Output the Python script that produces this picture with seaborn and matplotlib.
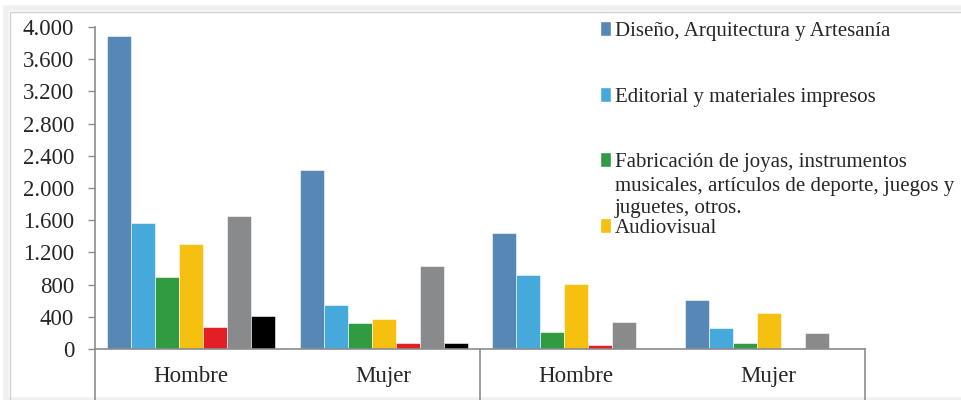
import matplotlib
matplotlib.use('Agg')
import matplotlib.pyplot as plt
from matplotlib.patches import Patch, Rectangle
from matplotlib.ticker import FuncFormatter
import matplotlib.transforms as mtransforms
import seaborn as sns
import pandas as pd

# datos
grupos = ['Hombre', 'Mujer', 'Hombre', 'Mujer']
series = [
    'Diseño, Arquitectura y Artesanía',
    'Editorial y materiales impresos',
    'Fabricación de joyas, instrumentos musicales, artículos de deporte, juegos y juguetes, otros.',
    'Audiovisual',
    'Serie 5',
    'Serie 6',
    'Serie 7',
]
diseno = [3883, 2228, 1443, 607]
editorial = [1567, 545, 915, 267]
fabricacion = [890, 329, 208, 71]
audiovisual = [1309, 374, 803, 449]
serie5 = [270, 80, 46, 0]
serie6 = [1651, 1027, 333, 200]
serie7 = [408, 71, 0, 0]
colores = ['#5687B5', '#45A9DB', '#319B42', '#F5C010', '#E31E24', '#898A8C', '#000000']
yticks = [0, 400, 800, 1200, 1600, 2000, 2400, 2800, 3200, 3600, 4000]

FS = 15      # leyenda
FS_EJE = 16.5  # etiquetas de los ejes
GRIS = '#8c8c8c'


def build_df():
    valores = [diseno, editorial, fabricacion, audiovisual, serie5, serie6, serie7]
    filas = []
    for s, vals in zip(series, valores):
        for i, v in enumerate(vals):
            filas.append({'grupo': f'g{i}', 'serie': s, 'valor': v})
    return pd.DataFrame(filas)


def main():
    sns.set_style('white')
    plt.rcParams['font.family'] = ['Liberation Serif', 'DejaVu Serif']

    df = build_df()
    fig = plt.figure(figsize=(9.61, 4.0), dpi=100)
    W, H = 961, 400
    ax = fig.add_axes([95 / W, 1 - 349 / H, (865 - 95) / W, (349 - 27) / H])

    sns.barplot(data=df, x='grupo', y='valor', hue='serie', hue_order=series,
                palette=colores, saturation=1, width=0.875, gap=0, ax=ax,
                edgecolor='white', linewidth=0.4, legend=False)

    ax.set_ylim(0, 4000)
    ax.set_xlim(-0.5, len(grupos) - 0.5)
    ax.set_yticks(yticks)
    ax.yaxis.set_major_formatter(FuncFormatter(lambda v, p: f'{int(v):,}'.replace(',', '.')))
    ax.set_xticks(range(len(grupos)))
    ax.set_xticklabels(grupos)
    ax.set_xlabel('')
    ax.set_ylabel('')
    ax.tick_params(axis='y', length=5, width=1, color=GRIS, pad=10, labelsize=FS_EJE, left=True)
    ax.tick_params(axis='x', length=0, pad=12, labelsize=FS_EJE)

    for side in ['top', 'right']:
        ax.spines[side].set_visible(False)
    for side in ['left', 'bottom']:
        ax.spines[side].set_color(GRIS)
        ax.spines[side].set_linewidth(1.2)

    # separadores de categorias (dos niveles)
    trans = mtransforms.blended_transform_factory(ax.transAxes, ax.transAxes)
    for xf in [0, 0.5, 1]:
        ax.plot([xf, xf], [0, -0.2], color=GRIS, lw=1.2, transform=trans, clip_on=False)

    # leyenda (recortada como en el original)
    ley = [(0, series[0], 31), (1, series[1], 97),
           (2, 'Fabricación de joyas, instrumentos', 162), (3, series[3], 228)]
    for idx, lab, yp in ley:
        fig.legend(handles=[Patch(facecolor=colores[idx])], labels=[lab],
                   loc='center left', bbox_to_anchor=(600 / W, 1 - yp / H),
                   frameon=False, fontsize=FS,
                   handlelength=0.55, handleheight=0.75, handletextpad=0.15,
                   borderpad=0, borderaxespad=0)
    fig.text(615 / W, 1 - 186 / H, 'musicales, artículos de deporte, juegos y',
             fontsize=FS, va='center', ha='left')
    fig.text(615 / W, 1 - 209 / H, 'juguetes, otros.', fontsize=FS, va='center', ha='left')

    # marco del area del grafico con sombra
    fig.patches.append(Rectangle((6 / W, 0), 1.1, (H - 8) / H, transform=fig.transFigure,
                                 facecolor='none', edgecolor='#f0f0f0', lw=4, zorder=-2))
    fig.patches.append(Rectangle((10 / W, -0.1), 1.1, (H - 12) / H + 0.1, transform=fig.transFigure,
                                 facecolor='none', edgecolor='#d0d0d0', lw=1, zorder=-1))

    fig.savefig('out.png', dpi=100)
    plt.close(fig)


main()
